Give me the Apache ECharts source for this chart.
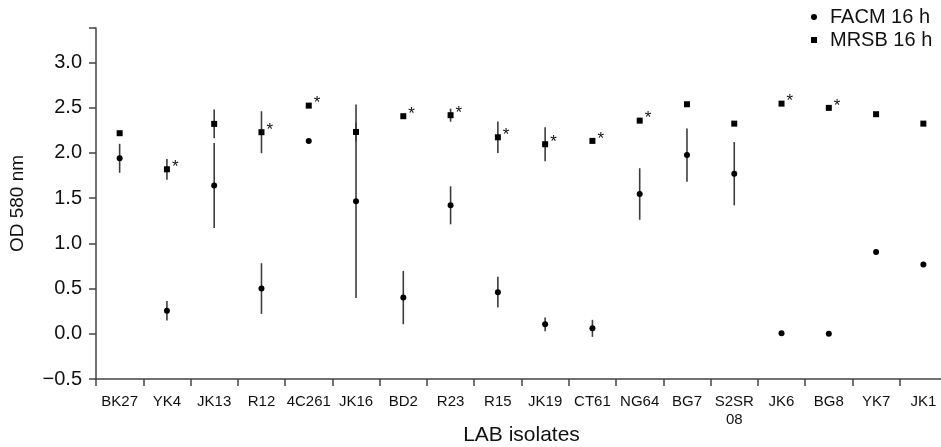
<!DOCTYPE html>
<html>
<head>
<meta charset="utf-8">
<script src="https://cdn.jsdelivr.net/npm/echarts@6/dist/echarts.min.js"></script>
<style>
  html, body { margin: 0; padding: 0; background: #fff; }
  #chart { width: 941px; height: 447px; }
</style>
</head>
<body>
<div id="chart"></div>
<script>
  // LAB isolates on the x axis
  const categories = ['BK27', 'YK4', 'JK13', 'R12', '4C261', 'JK16', 'BD2', 'R23', 'R15',
    'JK19', 'CT61', 'NG64', 'BG7', 'S2SR\n08', 'JK6', 'BG8', 'YK7', 'JK1']

  // FACM 16 h: mean OD and half error bar (0 = no bar)
  const facmMean = [1.94, 0.255, 1.64, 0.50, 2.13, 1.465, 0.40, 1.42, 0.46,
    0.105, 0.06, 1.545, 1.975, 1.77, 0.005, 0.0, 0.905, 0.765]
  const facmErr = [0.16, 0.107, 0.47, 0.28, 0, 1.07, 0.295, 0.21, 0.17,
    0.076, 0.094, 0.285, 0.295, 0.35, 0, 0, 0, 0]

  // MRSB 16 h
  const mrsbMean = [2.217, 1.818, 2.32, 2.228, 2.522, 2.231, 2.405, 2.416, 2.172,
    2.095, 2.132, 2.356, 2.537, 2.323, 2.544, 2.497, 2.427, 2.323]
  const mrsbErr = [0, 0.115, 0.158, 0.232, 0, 0.105, 0, 0.072, 0.174,
    0.187, 0, 0, 0, 0, 0, 0, 0, 0]
  // 1 = marked with *
  const mrsbStar = [0, 1, 0, 1, 1, 0, 1, 1, 1, 1, 1, 1, 0, 0, 1, 1, 0, 0]

  // y axis: labelled ticks, plus a bare tick at the top end
  const yMin = -0.5
  const yMax = 3.38
  const yLabels = [-0.5, 0, 0.5, 1.0, 1.5, 2.0, 2.5, 3.0]

  function errData(mean, err) {
    let out = []
    mean.forEach((m, i) => {
      if (err[i] > 0) out.push([i, m - err[i], m + err[i]])
    })
    return out
  }

  function renderErr(params, api) {
    let p1 = api.coord([api.value(0), api.value(1)])
    let p2 = api.coord([api.value(0), api.value(2)])
    return {
      type: 'line',
      shape: { x1: p1[0], y1: p1[1], x2: p2[0], y2: p2[1] },
      style: { stroke: '#3c3c3c', lineWidth: 1.6 }
    }
  }

  const chart = echarts.init(document.getElementById('chart'))
  const font = 'Liberation Sans, Arial, sans-serif'

  chart.setOption({
    animation: false,
    textStyle: { fontFamily: font },
    legend: {
      orient: 'vertical',
      left: 806,
      top: 2,
      itemWidth: 6,
      itemHeight: 6,
      itemGap: 3,
      textStyle: { fontSize: 20, color: '#111', padding: [0, 0, 0, 8] },
      data: [
        { name: 'FACM 16 h', icon: 'circle' },
        { name: 'MRSB 16 h', icon: 'rect' }
      ]
    },
    grid: { left: 96, top: 28, width: 851, height: 351, outerBoundsMode: 'none' },
    xAxis: {
      type: 'category',
      data: categories,
      boundaryGap: true,
      name: 'LAB isolates',
      nameLocation: 'middle',
      nameGap: 46,
      nameMoveOverlap: false,
      nameTextStyle: { fontSize: 21, color: '#111' },
      axisLine: { show: true, onZero: false, lineStyle: { color: '#444', width: 1.5 } },
      axisTick: { show: true, length: 7, lineStyle: { color: '#444', width: 1.5 } },
      axisLabel: { interval: 0, fontSize: 15, color: '#111', margin: 14, lineHeight: 18 },
      splitLine: { show: false }
    },
    yAxis: {
      type: 'value',
      min: yMin,
      max: yMax,
      name: 'OD 580 nm',
      nameLocation: 'middle',
      nameGap: 69,
      nameMoveOverlap: false,
      nameTextStyle: { fontSize: 19, color: '#111' },
      axisLine: { show: true, lineStyle: { color: '#444', width: 1.5 } },
      axisTick: {
        show: true,
        length: 7,
        customValues: yLabels.concat([yMax]),
        lineStyle: { color: '#444', width: 1.5 }
      },
      axisLabel: {
        fontSize: 20,
        color: '#111',
        margin: 14,
        customValues: yLabels,
        formatter: v => (v < 0 ? '\u2212' : '') + Math.abs(v).toFixed(1)
      },
      splitLine: { show: false }
    },
    series: [
      {
        name: 'FACM err',
        type: 'custom',
        renderItem: renderErr,
        data: errData(facmMean, facmErr),
        z: 1
      },
      {
        name: 'MRSB err',
        type: 'custom',
        renderItem: renderErr,
        data: errData(mrsbMean, mrsbErr),
        z: 1
      },
      {
        name: 'FACM 16 h',
        type: 'scatter',
        symbol: 'circle',
        symbolSize: 6,
        itemStyle: { color: '#000', opacity: 1 },
        data: facmMean,
        z: 3
      },
      {
        name: 'MRSB 16 h',
        type: 'scatter',
        symbol: 'rect',
        symbolSize: 6,
        itemStyle: { color: '#000', opacity: 1 },
        data: mrsbMean.map((v, i) => ({
          value: v,
          label: {
            show: mrsbStar[i] === 1,
            formatter: '*',
            position: 'right',
            distance: 2,
            offset: [0, -2],
            fontSize: 17,
            color: '#111'
          }
        })),
        z: 3
      }
    ]
  })
</script>
</body>
</html>
